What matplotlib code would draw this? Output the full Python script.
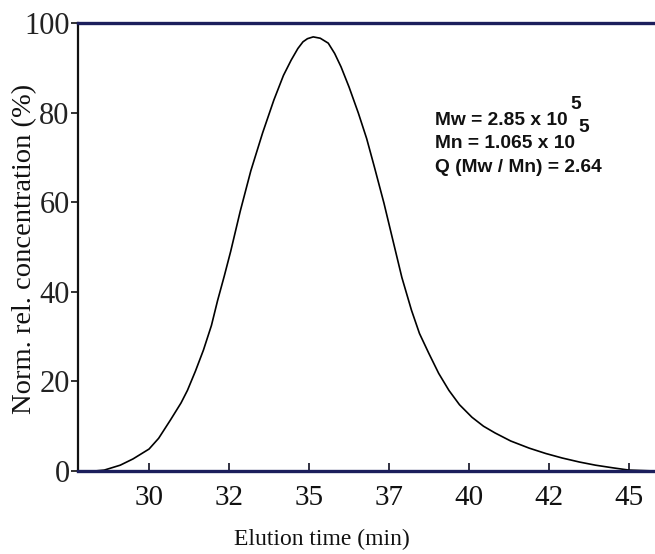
import matplotlib
matplotlib.use("Agg")
import matplotlib.pyplot as plt

# ---- data ----
elution_time = [27.78, 28.3, 28.6, 29.1, 29.5, 30.0, 30.3, 30.67, 31.0, 31.2, 31.45, 31.7,
                31.95, 32.14, 32.35, 32.55, 32.85, 33.18, 33.55, 33.9, 34.2, 34.44, 34.65,
                34.81, 34.95, 35.13, 35.35, 35.6, 35.8, 36.0, 36.25, 36.54, 36.8, 37.04,
                37.34, 37.64, 37.9, 38.2, 38.45, 38.74, 39.05, 39.37, 39.7, 40.09, 40.45,
                40.81, 41.3, 41.88, 42.4, 42.91, 43.45, 43.95, 44.5, 45.0, 45.81]
concentration = [0, 0, 0.2, 1.3, 2.7, 4.9, 7.3, 11.4, 15.2, 18, 22.3, 27,
                 32.5, 38, 43.5, 49, 58, 67, 75.5, 82.8, 88.3, 91.7, 94.3,
                 95.8, 96.5, 96.9, 96.6, 95.5, 93.2, 90.2, 85.7, 79.9, 74.2, 67.9,
                 59.8, 50.9, 43.2, 35.9, 30.7, 26.3, 21.8, 18, 14.8, 12, 10,
                 8.5, 6.7, 5.1, 3.9, 2.9, 2.0, 1.3, 0.7, 0.2, 0]

xtick_pos = [30, 32.5, 35, 37.5, 40, 42.5, 45]
xtick_labels = ["30", "32", "35", "37", "40", "42", "45"]
ytick_pos = [0, 20, 40, 60, 80, 100]
ytick_labels = ["0", "20", "40", "60", "80", "100"]

line1 = "Mw = 2.85 x 10"
line2 = "Mn = 1.065 x 10"
line3 = "Q (Mw / Mn) = 2.64"
exponent = "5"

navy = "#1c1f5c"

fig = plt.figure(figsize=(6.55, 5.54), dpi=100)
ax = fig.add_axes([78 / 655, 83 / 554, 577 / 655, 448 / 554])

ax.plot(elution_time, concentration, color="black", lw=1.2, zorder=3)

ax.set_xlim(27.78, 45.81)
ax.set_ylim(0, 100)

for s in ["top", "bottom"]:
    ax.spines[s].set_color(navy)
    ax.spines[s].set_linewidth(2.4)
ax.spines["left"].set_color("#111111")
ax.spines["left"].set_linewidth(1.6)
ax.spines["right"].set_visible(False)
ax.spines["top"].set_zorder(5)
ax.spines["bottom"].set_zorder(5)

serif = ["Liberation Serif", "DejaVu Serif"]
ax.set_xticks(xtick_pos)
ax.set_xticklabels(xtick_labels, family=serif, fontsize=21)
ax.set_yticks(ytick_pos)
ax.set_yticklabels(ytick_labels, family=serif, fontsize=22)
ax.tick_params(axis="x", direction="in", length=6, width=1.3, colors="#222233", pad=10,
               top=False)
ax.tick_params(axis="x", labelcolor="#111111")
ax.tick_params(axis="y", direction="out", length=5, width=1.3, colors="#222222", pad=1)

ax.set_xlabel("Elution time (min)", family=serif, fontsize=17, color="#111111")
ax.xaxis.set_label_coords((322 - 78) / 577, -(529 - 471) / 448)
ax.set_ylabel("Norm. rel. concentration (%)", family=serif, fontsize=20.5, color="#111111")
ax.yaxis.set_label_coords(-(78 - 37) / 577, (471 - 249) / 448)

sans = ["Liberation Sans", "DejaVu Sans"]
kw = dict(family=sans, fontweight="bold", fontsize=13.8, color="#111111",
          transform=ax.transAxes, va="baseline", ha="left")
lx = (435 - 78) / 577
t1 = ax.text(lx, (471 - 125) / 448, line1, **kw)
t2 = ax.text(lx, (471 - 148) / 448, line2, **kw)
t3 = ax.text(lx, (471 - 172) / 448, line3, **kw)
for t in (t1, t2):
    ax.annotate(exponent, xy=(1, 0), xycoords=t, xytext=(3, 16), textcoords="offset pixels",
                family=sans, fontweight="bold", fontsize=13.8, color="#111111",
                va="bottom", ha="left")

fig.savefig("out.png", dpi=100)
